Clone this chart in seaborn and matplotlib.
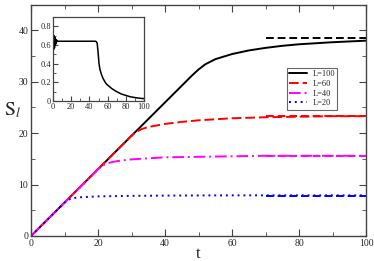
import numpy as np
import pandas as pd
import matplotlib
matplotlib.use("Agg")
import matplotlib.pyplot as plt
import seaborn as sns
from matplotlib.ticker import MultipleLocator

# --- data ---
t_100 = [0, 10, 20, 30, 40, 48, 50, 52, 55, 60, 65, 70, 75, 80, 85, 90, 95, 100]
s_100 = [0, 6.5, 13, 19.5, 26, 31.2, 32.4, 33.4, 34.4, 35.4, 36.1, 36.6, 37.0, 37.3, 37.5, 37.7, 37.85, 38.0]

t_60 = [0, 10, 20, 30, 31, 33, 35, 40, 45, 50, 60, 70, 80, 90, 100]
s_60 = [0, 6.5, 13, 19.5, 20.1, 20.8, 21.2, 21.8, 22.2, 22.5, 22.9, 23.1, 23.2, 23.3, 23.3]

t_40 = [0, 10, 20, 21, 23, 26, 30, 35, 40, 50, 60, 70, 80, 90, 100]
s_40 = [0, 6.5, 13, 13.6, 14.2, 14.6, 14.9, 15.1, 15.3, 15.4, 15.5, 15.6, 15.6, 15.6, 15.6]

t_20 = [0, 5, 10, 11, 12, 14, 17, 20, 30, 40, 60, 80, 100]
s_20 = [0, 3.25, 6.5, 7.0, 7.3, 7.5, 7.6, 7.7, 7.8, 7.85, 7.9, 7.9, 7.9]

labels = ["L=100", "L=60", "L=40", "L=20"]
colors = ["black", "red", "magenta", "blue"]
styles = ["-", (0, (5, 2)), (0, (6, 2, 1, 2)), (0, (1, 2))]

# saturation values (dashed guides from t=70)
t_sat = [70, 100]
s_sat = [38.6, 23.4, 15.6, 7.85]

# inset data
t_in = [0, 0.5, 1, 1.5, 2, 2.5, 3, 3.5, 4, 5, 6, 10, 20, 30, 40, 47, 48.5, 49.5, 50.5, 51.5,
        53, 55, 58, 60, 65, 70, 75, 80, 85, 90, 95, 100]
v_in = [0.64, 0.55, 0.70, 0.57, 0.68, 0.60, 0.66, 0.62, 0.65, 0.64, 0.64, 0.64, 0.64, 0.64, 0.64,
        0.64, 0.62, 0.52, 0.40, 0.34, 0.29, 0.24, 0.19, 0.17, 0.13, 0.10, 0.075, 0.06, 0.045,
        0.037, 0.03, 0.025]

# --- plot ---
sns.set_style("ticks")
plt.rcParams["font.family"] = ["Liberation Serif", "DejaVu Serif"]
plt.rcParams["mathtext.fontset"] = "stix"

fig = plt.figure(figsize=(3.74, 2.61), dpi=100)
ax = fig.add_axes([0.083, 0.096, 0.896, 0.886])

series = [(t_100, s_100), (t_60, s_60), (t_40, s_40), (t_20, s_20)]
for (tt, ss), lab, c, ls in zip(series, labels, colors, styles):
    df = pd.DataFrame({"t": tt, "S": ss})
    sns.lineplot(data=df, x="t", y="S", ax=ax, color=c, linestyle=ls, lw=1.4, label=lab)

for val, c in zip(s_sat, colors):
    df = pd.DataFrame({"t": t_sat, "S": [val, val]})
    sns.lineplot(data=df, x="t", y="S", ax=ax, color=c, linestyle=(0, (4, 2)), lw=1.4, legend=False)

ax.set_xlim(0, 100)
ax.set_ylim(0, 45)
ax.xaxis.set_major_locator(MultipleLocator(20))
ax.xaxis.set_minor_locator(MultipleLocator(10))
ax.yaxis.set_major_locator(MultipleLocator(10))
ax.yaxis.set_minor_locator(MultipleLocator(5))
ax.set_yticks([0, 10, 20, 30, 40])
ax.set_yticklabels(["0", "10", "20", "30", "40"])
ax.tick_params(which="both", direction="in", top=True, right=True, labelsize=7, pad=2,
               color="#444444")
ax.tick_params(which="major", length=5)
ax.tick_params(which="minor", length=3)
ax.set_xlabel("t", fontsize=12, labelpad=-1)
ax.set_ylabel(r"$\mathrm{S}_{l}$", fontsize=14, rotation=0, labelpad=6)
ax.yaxis.set_label_coords(-0.055, 0.5)
for sp in ax.spines.values():
    sp.set_color("#444444")
    sp.set_linewidth(1.0)

leg = ax.legend(loc="upper left", bbox_to_anchor=(0.75, 0.745), fontsize=6, frameon=True,
                fancybox=False, edgecolor="#444444", handlelength=2.2, borderpad=0.3,
                labelspacing=0.2, handletextpad=0.6)
leg.get_frame().set_linewidth(0.8)

# inset
axin = fig.add_axes([0.142, 0.613, 0.243, 0.322])
df_in = pd.DataFrame({"t": t_in, "v": v_in})
sns.lineplot(data=df_in, x="t", y="v", ax=axin, color="black", lw=1.1)
axin.set_xlim(0, 100)
axin.set_ylim(0, 0.9)
axin.xaxis.set_major_locator(MultipleLocator(20))
axin.xaxis.set_minor_locator(MultipleLocator(10))
axin.yaxis.set_major_locator(MultipleLocator(0.2))
axin.yaxis.set_minor_locator(MultipleLocator(0.1))
axin.set_yticks([0, 0.2, 0.4, 0.6, 0.8])
axin.set_yticklabels(["0", "0.2", "0.4", "0.6", "0.8"])
axin.tick_params(which="both", direction="in", labelsize=6, pad=1.5, color="#444444")
axin.tick_params(which="major", length=3.5)
axin.tick_params(which="minor", length=2)
axin.set_xlabel("")
axin.set_ylabel("")
for sp in axin.spines.values():
    sp.set_color("#444444")
    sp.set_linewidth(0.9)

fig.savefig("out.png", dpi=100)
